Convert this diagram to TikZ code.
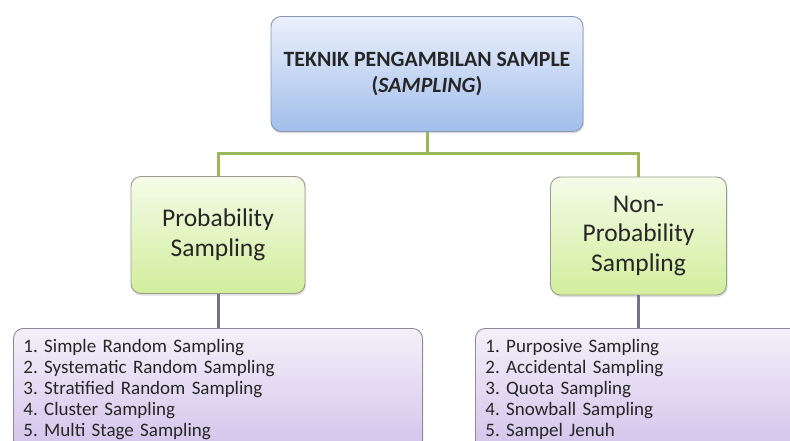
\documentclass[tikz,border=0pt]{standalone}
\usepackage{fontspec}
\setmainfont{Carlito}
\frenchspacing
\usetikzlibrary{shadows}
\definecolor{blueTop}{HTML}{EAF0FB}
\definecolor{blueBot}{HTML}{A2BEEC}
\definecolor{blueEdge}{HTML}{8796B4}
\definecolor{greenTop}{HTML}{F5FBE8}
\definecolor{greenBot}{HTML}{D2EE9C}
\definecolor{greenEdge}{HTML}{9A9C8C}
\definecolor{purpTop}{HTML}{F4F0F9}
\definecolor{purpBot}{HTML}{D3C3EB}
\definecolor{purpEdge}{HTML}{8E8A9A}
\definecolor{gLine}{HTML}{9BB75A}
\definecolor{pLine}{HTML}{77708C}
\definecolor{txt}{HTML}{262626}
\tikzset{
  box/.style={draw, line width=0.9pt, rounded corners=10pt, text=txt,
    drop shadow={opacity=0.25, shadow xshift=1pt, shadow yshift=-2pt}},
  topbox/.style={box, draw=blueEdge, top color=blueTop, bottom color=blueBot,
    minimum width=312pt, minimum height=115pt, align=center,
    font=\fontsize{21.8}{26}\selectfont\bfseries},
  catbox/.style={box, draw=greenEdge, top color=greenTop, bottom color=greenBot,
    minimum height=117pt, align=center, font=\fontsize{25.5}{29.5}\selectfont},
  listbox/.style={box, draw=purpEdge, top color=purpTop, bottom color=purpBot,
    anchor=north west, align=left, inner xsep=10pt, inner ysep=8pt,
    minimum height=122pt, font=\fontsize{19}{21}\selectfont\frenchspacing},
  gline/.style={draw=gLine, line width=3pt},
  pline/.style={draw=pLine, line width=3pt}
}
\begin{document}
\begin{tikzpicture}[x=1pt,y=-1pt]
\useasboundingbox (0,0) rectangle (790,441);
\clip (0,0) rectangle (790,441);
\fill[white] (0,0) rectangle (790,441);

\node[topbox] (top) at (427,74) {TEKNIK PENGAMBILAN SAMPLE\\(\textit{SAMPLING})};
\node[catbox, minimum width=174pt] (pl) at (218,235) {Probability\\Sampling};
\node[catbox, minimum width=176pt, minimum height=118pt] (np) at (638.5,236) {Non-\\Probability\\Sampling};
\node[listbox, text width=389pt] (ll) at (13,328) {1. Simple Random Sampling\\2. Systematic Random Sampling\\3. Stratified Random Sampling\\4. Cluster Sampling\\5. Multi Stage Sampling};
\node[listbox, text width=310pt] (rl) at (475,328) {1. Purposive Sampling\\2. Accidental Sampling\\3. Quota Sampling\\4. Snowball Sampling\\5. Sampel Jenuh};

\coordinate (hb) at (427,154);
\draw[gline] (top.south) -- (hb);
\draw[gline] (pl.north) -- (pl.north |- hb) -- (np.north |- hb) -- (np.north);
\draw[pline] (pl.south) -- (pl.south |- ll.north);
\draw[pline] (np.south) -- (np.south |- rl.north);
\end{tikzpicture}
\end{document}
